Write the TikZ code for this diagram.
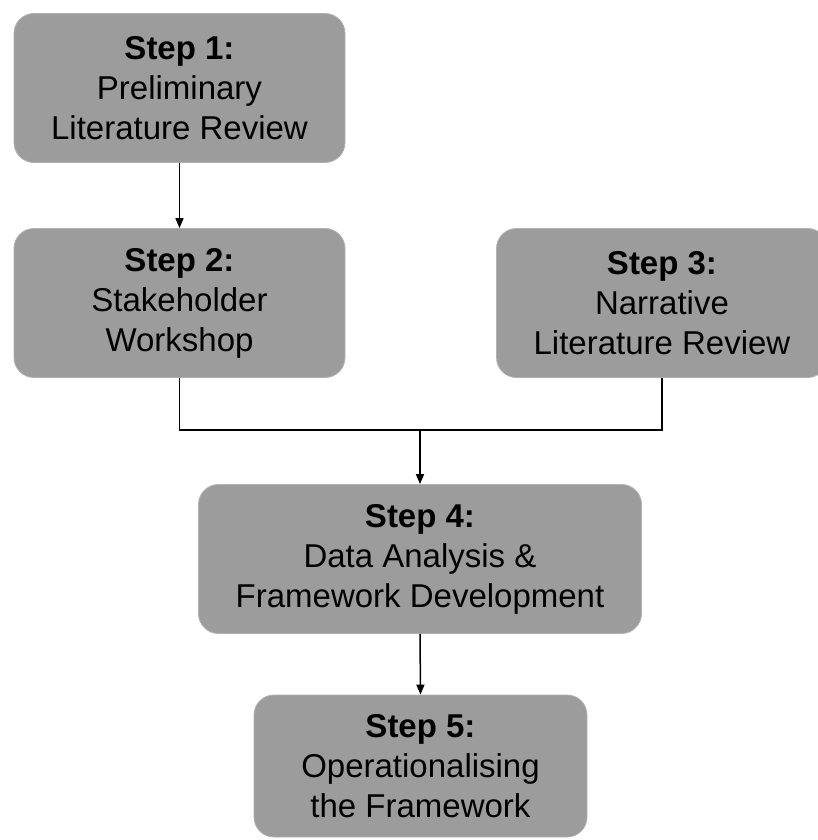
\documentclass[tikz,border=0pt]{standalone}
\usepackage{fontspec}
\setmainfont{Liberation Sans}
\usetikzlibrary{arrows.meta}
\definecolor{boxgray}{HTML}{9C9C9C}
\begin{document}
\begin{tikzpicture}[x=1pt,y=-1pt,
  stepbox/.style={draw=boxgray!80!white, line width=0.8pt, fill=boxgray, rounded corners=20pt,
    minimum width=#1, minimum height=149pt, inner sep=0pt, align=center,
    font=\fontsize{33}{40}\selectfont, text=black},
  conn/.style={line width=1.5pt, black},
  arr/.style={conn, -{Triangle[length=10pt,width=8pt]}}]
\useasboundingbox (0,0) rectangle (817,840);
\node[stepbox=331pt] (s1) at (179.5,88) {\textbf{Step 1:}\\Preliminary\\Literature Review};
\node[stepbox=331pt] (s2) at (179.5,303) {\textbf{Step 2:}\\Stakeholder\\Workshop};
\node[stepbox=331pt] (s3) at (662,303) {\textbf{Step 3:}\\Narrative\\Literature Review};
\node[stepbox=443pt] (s4) at (420,559) {\textbf{Step 4:}\\Data Analysis \&\\Framework Development};
\node[stepbox=333pt, minimum height=142pt] (s5) at (420.5,766) {\textbf{Step 5:}\\Operationalising\\the Framework};
\coordinate (j) at (420,430);
\draw[arr] (s1.south) -- (s2.north);
\draw[conn] (s2.south) |- (j) -| (s3.south);
\draw[arr] (j) -- (s4.north);
\draw[arr] (s4.south) -- (s5.north);
\end{tikzpicture}
\end{document}
